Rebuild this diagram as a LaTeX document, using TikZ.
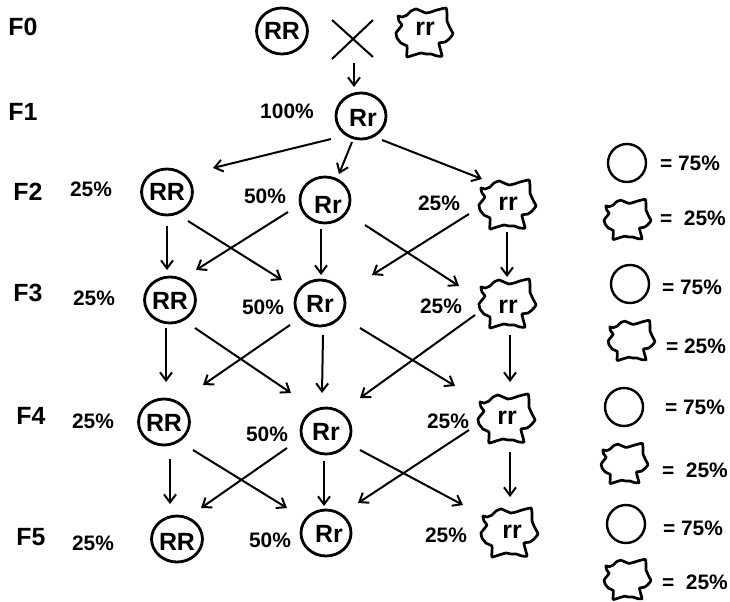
\documentclass[tikz,border=0pt]{standalone}
\usepackage{fontspec}
\setmainfont{Liberation Sans}
\usetikzlibrary{arrows.meta,calc,shapes.geometric}
\tikzset{
  x=1bp,y=-1bp,
  pea/.style={ellipse,draw=black,line width=2.8bp,minimum width=50bp,minimum height=46bp,inner sep=0pt,outer sep=0pt,text height=18bp,text depth=0pt,font=\fontsize{25}{27}\selectfont\bfseries},
  keypea/.style={circle,draw=black,line width=2.4bp,minimum size=38bp,inner sep=0pt,outer sep=0pt},
  wrinkle/.style={circle,minimum size=50bp,inner sep=0pt,outer sep=0pt,text height=13bp,text depth=0pt,font=\fontsize{25}{27}\selectfont\bfseries},
  keywrinkle/.style={circle,minimum size=40bp,inner sep=0pt,outer sep=0pt},
  wline/.style={draw=black,line width=2.7bp,line join=round},
  gen/.style={font=\fontsize{25}{27}\selectfont\bfseries,inner sep=0pt},
  pct/.style={font=\fontsize{21}{23}\selectfont\bfseries,inner sep=0pt},
  keytxt/.style={font=\fontsize{21}{23}\selectfont\bfseries,inner sep=0pt},
  arr/.style={draw=black,line width=2bp,-{Straight Barb[length=8bp,width=12bp,line width=2bp]}},
  crossline/.style={draw=black,line width=2bp}
}
\newcommand{\blobpath}{plot[smooth cycle,tension=.25] coordinates {(-27,-16)(-23,-15)(-18,-17)(-14,-21)(-9,-23)(-4,-21)(1,-19)(6,-20)(12,-22)(21,-24)(22,-18)(22,-11)(25,-4)(28,2)(24,7)(20,10)(14,11)(15,16)(17,24)(12,24)(6,22)(1,22)(-4,21)(-11,23)(-18,25)(-18,19)(-18,14)(-24,11)(-28,6)(-29,1)(-26,-3)(-23,-7)(-26,-11)}}
\newcommand{\bigblob}[1]{\path[wline,shift={(#1)}] \blobpath;}
\newcommand{\smallblob}[1]{\path[wline,shift={(#1)},scale=.82] \blobpath;}
\newcommand{\link}[4]{\draw[arr] ($(#1)+(#2)$) -- ($(#3)+(#4)$);}
\begin{document}
\begin{tikzpicture}
\useasboundingbox (0,0) rectangle (730,602);
% generation labels
\node[gen] (g0) at (23,27) {F0};
\node[gen] (g1) at (23,112) {F1};
\node[gen] (g2) at (28,192) {F2};
\node[gen] (g3) at (28,293) {F3};
\node[gen] (g4) at (31,416) {F4};
\node[gen] (g5) at (31,537) {F5};
% F0
\node[pea] (p0) at (282,31) {RR};
\node[wrinkle,text depth=6bp] (w0) at (425,32) {rr\hspace{8bp}};
\bigblob{w0}
\coordinate (xa) at (332,20); \coordinate (xb) at (373,57);
\coordinate (xc) at (373,20); \coordinate (xd) at (332,59);
\draw[crossline] (xa) -- (xb);
\draw[crossline] (xc) -- (xd);
\coordinate (xm) at (354,63);
% F1
\node[pea,text height=22bp] (f1) at (361,116) {\hspace{4bp}Rr};
\node[pct] (t1) at (287,111) {100\%};
\draw[arr] (xm) -- ($(f1)+(-7,-29)$);
% F2
\node[pea] (f2a) at (167,192) {RR};
\node[pea,text height=28bp] (f2b) at (325,200) {\hspace{6bp}Rr};
\node[wrinkle] (f2c) at (508,204) {rr};
\bigblob{f2c}
\node[pct] (t2a) at (91,189) {25\%};
\node[pct] (t2b) at (265,196) {50\%};
\node[pct] (t2c) at (439,203) {25\%};
% F3
\node[pea] (f3a) at (170,300) {RR};
\node[pea] (f3b) at (320,303) {Rr};
\node[wrinkle,text height=21bp] (f3c) at (508,303) {rr};
\bigblob{f3c}
\node[pct] (t3a) at (94,298) {25\%};
\node[pct] (t3b) at (263,307) {50\%};
\node[pct] (t3c) at (441,306) {25\%};
% F4
\node[pea] (f4a) at (164,422) {RR};
\node[pea] (f4b) at (326,431) {Rr};
\node[wrinkle] (f4c) at (507,418) {rr};
\bigblob{f4c}
\node[pct] (t4a) at (93,421) {25\%};
\node[pct] (t4b) at (267,434) {50\%};
\node[pct] (t4c) at (448,421) {25\%};
% F5
\node[pea,text height=22bp] (f5a) at (177,539) {RR};
\node[pea] (f5b) at (326,533) {\hspace{6bp}Rr};
\node[wrinkle] (f5c) at (510,532) {\hspace{4bp}rr};
\bigblob{f5c}
\node[pct] (t5a) at (93,543) {25\%};
\node[pct] (t5b) at (270,540) {50\%};
\node[pct] (t5c) at (446,535) {25\%};
% F1 -> F2
\link{f1}{-30,23}{f2a}{46,-24}
\link{f1}{-9,26}{f2b}{14,-26}
\link{f1}{21,24}{f2c}{-26,-25}
% F2 -> F3
\link{f2a}{0,34}{f3a}{-3,-30}
\link{f2a}{21,29}{f3b}{-38,-23}
\link{f2b}{-37,12}{f3a}{26,-30}
\link{f2b}{-4,29}{f3b}{1,-28}
\link{f2b}{40,25}{f3c}{-49,-17}
\link{f2c}{-39,10}{f3b}{52,-28}
\link{f2c}{-1,28}{f3c}{-1,-26}
% F3 -> F4
\link{f3a}{-4,28}{f4a}{2,-40}
\link{f3a}{25,28}{f4b}{-35,-38}
\link{f3b}{-30,22}{f4a}{39,-37}
\link{f3b}{3,32}{f4b}{-4,-38}
\link{f3b}{40,25}{f4c}{-52,-32}
\link{f3c}{-33,12}{f4b}{34,-33}
\link{f3c}{2,32}{f4c}{3,-36}
% F4 -> F5
\link{f4a}{6,37}{f5a}{-7,-35}
\link{f4a}{29,28}{f5b}{-39,-25}
\link{f4b}{-39,17}{f5a}{24,-31}
\link{f4b}{-2,30}{f5b}{-2,-27}
\link{f4b}{34,19}{f5c}{-47,-27}
\link{f4c}{-38,12}{f5b}{32,-30}
\link{f4c}{3,34}{f5c}{0,-35}
% legend
\node[keypea] (k1) at (627,163) {};
\node[keytxt] (k1t) at (690,163) {= 75\%};
\node[keywrinkle] (k2) at (628,219) {};
\smallblob{k2}
\node[keytxt] (k2t) at (693,218) {=\ \ 25\%};
\node[keypea] (k3) at (630,284) {};
\node[keytxt] (k3t) at (692,287) {= 75\%};
\node[keywrinkle] (k4) at (632,340) {};
\smallblob{k4}
\node[keytxt] (k4t) at (696,346) {= 25\%};
\node[keypea] (k5) at (624,407) {};
\node[keytxt] (k5t) at (695,407) {= 75\%};
\node[keywrinkle] (k6) at (625,463) {};
\smallblob{k6}
\node[keytxt] (k6t) at (695,470) {=\ \ 25\%};
\node[keypea] (k7) at (626,524) {};
\node[keytxt] (k7t) at (693,528) {= 75\%};
\node[keywrinkle] (k8) at (628,579) {};
\smallblob{k8}
\node[keytxt] (k8t) at (695,582) {=\ \ 25\%};
\end{tikzpicture}
\end{document}
